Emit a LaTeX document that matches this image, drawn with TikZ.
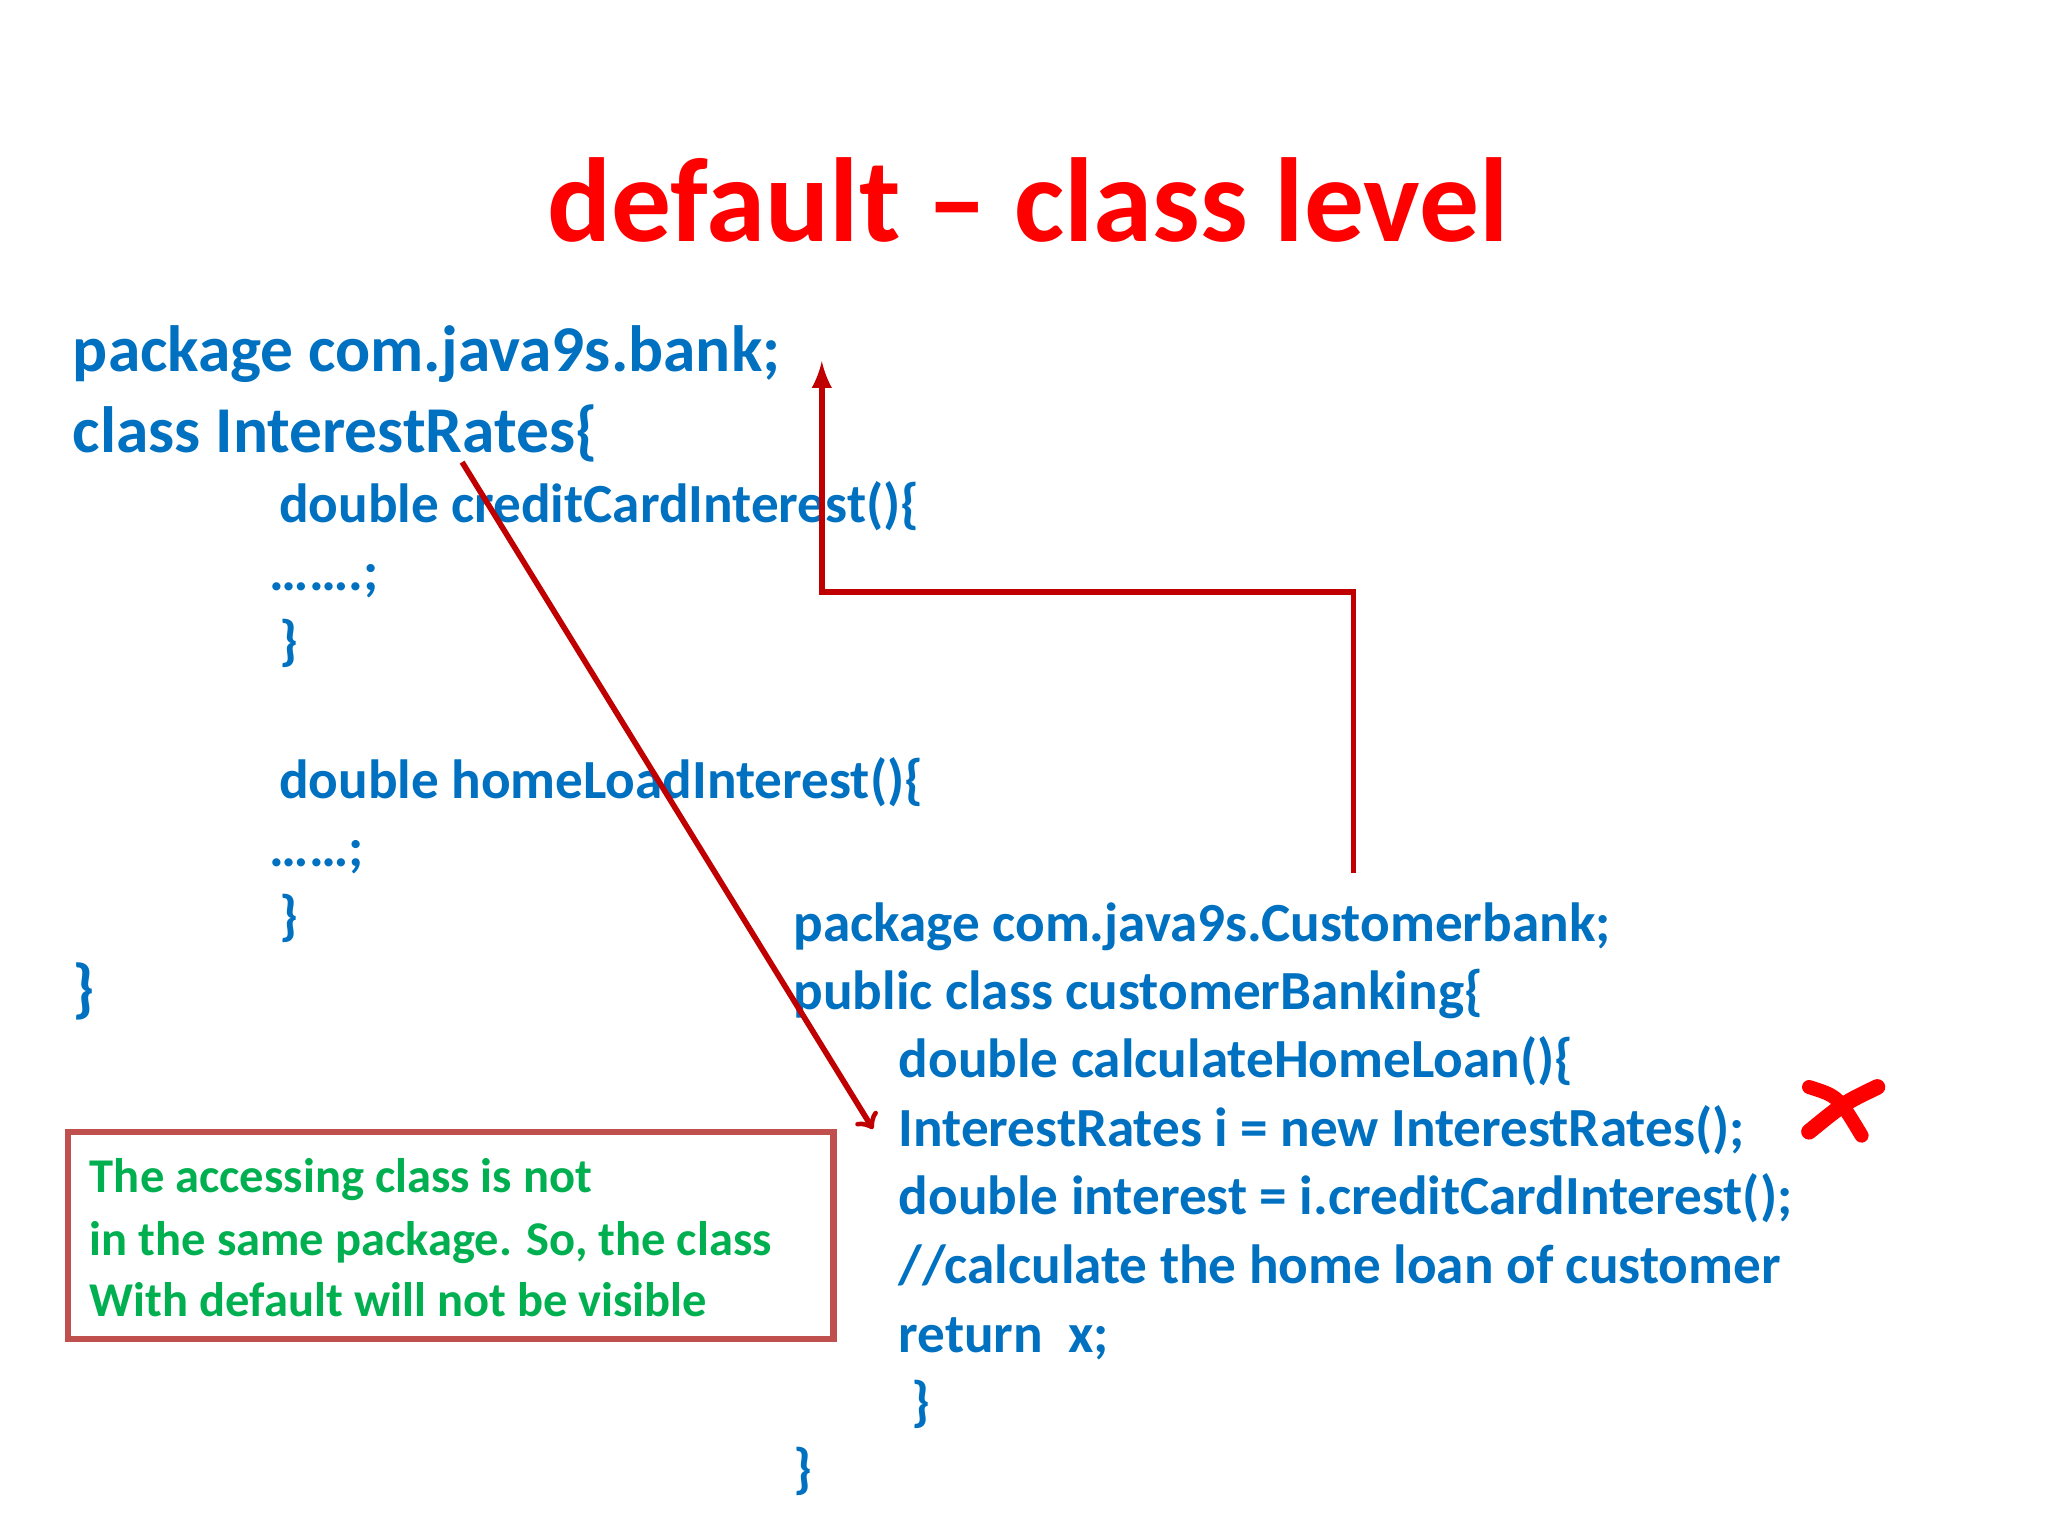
\documentclass[tikz,border=0pt]{standalone}
\usepackage{fontspec}
\setmainfont{Carlito}
\usepackage{xcolor}
\definecolor{codeblue}{HTML}{0070C0}
\definecolor{notegreen}{HTML}{00B050}
\definecolor{boxred}{HTML}{C0504D}
\definecolor{linkred}{HTML}{C00000}

\begin{document}
\begin{tikzpicture}[x=0.01313cm, y=-0.01313cm,
        code/.style={anchor=base west, inner sep=0pt, text=codeblue, font=\bfseries\fontsize{18.6}{22}\selectfont},
        body/.style={code, font=\bfseries\fontsize{15.7}{19}\selectfont},
        note/.style={anchor=base west, inner sep=0pt, text=notegreen, font=\bfseries\fontsize{13.8}{17}\selectfont},
        link/.style={draw=linkred, line width=1.6pt}
    ]
        \useasboundingbox (0,0) rectangle (1560,1170);
        \node[text=red, font=\bfseries\fontsize{34}{40}\selectfont] (title) at (783,152) {default -- class level};

        \node[code] (pkg) at (55,283) {package com.java9s.bank;};
        \node[code] (cls) at (55,345) {class InterestRates\{};
        \node[body] (credit) at (212,398) {double creditCardInterest()\{};
        \node[body] (dots1) at (205,450) {…….;};
        \node[body] (close1) at (212,502) {\}};
        \node[body] (home) at (212,608) {double homeLoadInterest()\{};
        \node[body] (dots2) at (205,660) {……;};
        \node[body] (close2) at (212,712) {\}};
        \node[code] (close3) at (55,770) {\}};

        \node[body] (cpkg) at (604,717) {package com.java9s.Customerbank;};
        \node[body] (ccls) at (604,769) {public class customerBanking\{};
        \node[body] (calc) at (684,821) {double calculateHomeLoan()\{};
        \node[body] (inst) at (684,873) {InterestRates i = new InterestRates();};
        \node[body] (intr) at (684,925) {double interest = i.creditCardInterest();};
        \node[body] (cmt) at (684,978) {//calculate the home loan of customer};
        \node[body] (ret) at (684,1030) {return\ \ x;};
        \node[body] (cclose1) at (694,1082) {\}};
        \node[body] (cclose2) at (604,1133) {\}};

        \draw[draw=boxred, line width=1.8pt] (52,862) rectangle (635,1020);
        \node[note] (note1) at (68,908) {The accessing class is not};
        \node[note] (note2) at (68,956) {in the same package. So, the class};
        \node[note] (note3) at (68,1003) {With default will not be visible};

        % links
        \coordinate (from-cls) at (352,352);
        \coordinate (to-inst) at (665,860);
        \draw[link, ->] (from-cls) -- (to-inst);
        \coordinate (from-cpkg) at (1031,665);
        \coordinate (to-pkg) at (626,275);
        \draw[link, -latex] (from-cpkg) |- (626,451) -- (to-pkg);

        % cross
        \draw[red, line width=4pt, line cap=round] (1378,828) .. controls (1400,835) .. (1418,865);
        \draw[red, line width=4.5pt, line cap=round] (1430,828) .. controls (1405,840) .. (1378,862);
    \end{tikzpicture}
\end{document}
